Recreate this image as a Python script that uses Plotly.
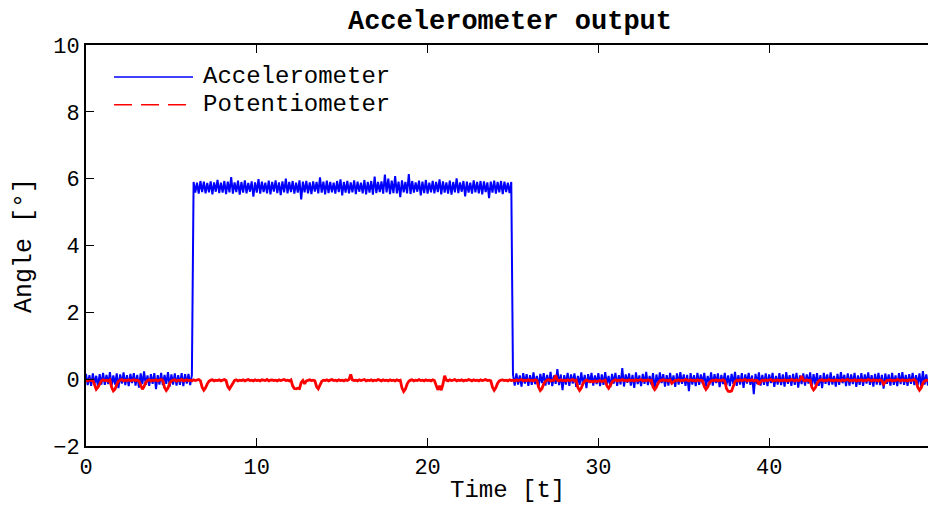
import numpy as np
import plotly.graph_objects as go

SAMPLE_STEP = 0.1  # seconds between samples

# Accelerometer angle [deg], t = 0.0 .. 6.2
accel_pre = [
    0.16, -0.18, 0.12, -0.20, 0.17, -0.14, 0.10, -0.22, 0.15, -0.16,
    0.19, -0.17, 0.13, -0.15, 0.21, -0.19, 0.11, -0.16, 0.17, -0.27,
    0.14, -0.13, 0.20, -0.18, 0.12, -0.21, 0.16, -0.12, 0.18, -0.19,
    0.13, -0.25, 0.17, -0.15, 0.23, -0.17, 0.11, -0.20, 0.15, -0.14,
    0.18, -0.30, 0.12, -0.16, 0.19, -0.18, 0.13, -0.14, 0.21, -0.22,
    0.14, -0.16, 0.17, -0.19, 0.12, -0.17, 0.18, -0.21, 0.15, -0.13,
    0.16, -0.18, 0.13,
]

# Accelerometer angle [deg], t = 6.3 .. 24.9
accel_high = [
    5.90, 5.58, 5.88, 5.55, 5.93, 5.60, 5.91, 5.56, 5.87, 5.59,
    5.92, 5.53, 5.89, 5.61, 5.96, 5.57, 5.88, 5.58, 5.93, 5.54,
    5.91, 5.59, 6.05, 5.55, 5.89, 5.60, 5.94, 5.52, 5.90, 5.58,
    5.95, 5.56, 5.87, 5.61, 5.92, 5.46, 5.89, 5.58, 5.99, 5.55,
    5.91, 5.60, 5.88, 5.56, 5.94, 5.53, 5.90, 5.61, 5.95, 5.57,
    5.89, 5.51, 5.92, 5.59, 6.00, 5.56, 5.90, 5.60, 5.93, 5.55,
    5.88, 5.58, 5.95, 5.38, 5.91, 5.59, 5.93, 5.56, 5.89, 5.54,
    5.92, 5.61, 5.90, 5.56, 6.04, 5.58, 5.91, 5.53, 5.94, 5.57,
    5.90, 5.59, 5.88, 5.55, 5.93, 5.60, 5.98, 5.50, 5.90, 5.58,
    5.93, 5.56, 5.89, 5.59, 5.95, 5.54, 5.91, 5.61, 5.88, 5.56,
    5.96, 5.53, 5.90, 5.58, 5.93, 5.52, 6.06, 5.57, 5.90, 5.60,
    5.92, 5.55, 6.12, 5.59, 6.00, 5.54, 5.94, 5.57, 6.08, 5.56,
    5.91, 5.45, 5.95, 5.59, 5.90, 5.56, 6.14, 5.54, 5.93, 5.58,
    5.89, 5.61, 5.94, 5.50, 5.91, 5.57, 5.96, 5.55, 5.88, 5.59,
    5.93, 5.56, 5.90, 5.60, 5.98, 5.53, 5.92, 5.58, 5.89, 5.55,
    5.94, 5.52, 5.90, 5.59, 6.01, 5.57, 5.89, 5.61, 5.93, 5.47,
    5.91, 5.58, 5.88, 5.55, 5.95, 5.59, 5.90, 5.56, 5.93, 5.53,
    5.92, 5.60, 5.89, 5.42, 5.91, 5.58, 5.94, 5.55, 5.90, 5.59,
    5.93, 5.54, 5.91, 5.60, 5.88, 5.57, 5.90,
]

# Accelerometer angle [deg], t = 25.0 .. 49.3
accel_post = [
    0.14, -0.19, 0.17, -0.16, 0.11, -0.22, 0.18, -0.13, 0.15, -0.20,
    0.12, -0.17, 0.20, -0.15, 0.10, -0.24, 0.16, -0.12, 0.18, -0.19,
    0.13, -0.16, 0.22, -0.21, 0.11, -0.14, 0.30, -0.18, 0.14, -0.33,
    0.12, -0.16, 0.19, -0.20, 0.14, -0.13, 0.17, -0.23, 0.10, -0.17,
    0.20, -0.18, 0.13, -0.27, 0.15, -0.12, 0.19, -0.19, 0.11, -0.15,
    0.18, -0.21, 0.14, -0.17, 0.21, -0.15, 0.10, -0.24, 0.16, -0.13,
    0.19, -0.20, 0.12, -0.16, 0.33, -0.22, 0.14, -0.11, 0.17, -0.19,
    0.13, -0.26, 0.20, -0.15, 0.11, -0.21, 0.16, -0.14, 0.22, -0.18,
    0.10, -0.16, 0.18, -0.31, 0.14, -0.17, 0.20, -0.12, 0.15, -0.22,
    0.12, -0.19, 0.19, -0.15, 0.11, -0.23, 0.17, -0.16, 0.21, -0.14,
    0.14, -0.20, 0.13, -0.36, 0.18, -0.16, 0.12, -0.21, 0.19, -0.17,
    0.14, -0.13, 0.19, -0.22, 0.10, -0.17, 0.20, -0.19, 0.15, -0.12,
    0.17, -0.24, 0.13, -0.15, 0.19, -0.18, 0.11, -0.21, 0.16, -0.14,
    0.22, -0.20, 0.12, -0.16, 0.18, -0.26, 0.14, -0.13, 0.19, -0.17,
    0.11, -0.45, 0.16, -0.15, 0.20, -0.19, 0.13, -0.17, 0.17, -0.21,
    0.14, -0.12, 0.19, -0.23, 0.10, -0.16, 0.18, -0.18, 0.14, -0.22,
    0.21, -0.14, 0.12, -0.20, 0.16, -0.17, 0.19, -0.25, 0.11, -0.15,
    0.17, -0.19, 0.14, -0.13, 0.20, -0.22, 0.15, -0.16, 0.18, -0.20,
    0.12, -0.27, 0.19, -0.14, 0.14, -0.18, 0.20, -0.16, 0.10, -0.22,
    0.16, -0.17, 0.21, -0.12, 0.13, -0.21, 0.17, -0.19, 0.14, -0.15,
    0.19, -0.23, 0.11, -0.17, 0.18, -0.20, 0.14, -0.13, 0.20, -0.17,
    0.12, -0.22, 0.16, -0.16, 0.19, -0.18, 0.13, -0.28, 0.17, -0.14,
    0.14, -0.19, 0.19, -0.17, 0.11, -0.21, 0.18, -0.15, 0.21, -0.17,
    0.13, -0.20, 0.15, -0.14, 0.19, -0.18, 0.12, -0.17, 0.17, -0.22,
    0.24, -0.16, 0.14, -0.19,
]

# Potentiometer angle [deg], t = 0.0 .. 49.3
potentiometer = [
    -0.03, -0.05, -0.02, -0.04, -0.03, -0.20, -0.30, -0.24, -0.12, -0.05,
    -0.02, -0.04, -0.03, -0.06, -0.02, -0.24, -0.35, -0.30, -0.16, -0.06,
    -0.03, -0.01, -0.05, -0.03, -0.04, -0.02, -0.05, -0.03, -0.02, -0.04,
    -0.03, -0.05, -0.21, -0.30, -0.22, -0.10, -0.04, -0.02, -0.05, -0.03,
    -0.04, -0.02, -0.05, -0.03, -0.01, -0.04, -0.25, -0.34, -0.27, -0.12,
    -0.05, -0.03, -0.02, -0.06, -0.03, -0.04, -0.01, -0.05, -0.03, -0.02,
    -0.04, -0.03, -0.05, -0.02, -0.04, -0.03, -0.01, -0.05, -0.24, -0.33,
    -0.26, -0.14, -0.06, -0.03, -0.02, -0.05, -0.03, -0.04, -0.02, -0.05,
    -0.03, -0.01, -0.04, -0.22, -0.29, -0.20, -0.09, -0.04, -0.02, -0.05,
    -0.03, -0.04, -0.02, -0.05, -0.03, -0.01, -0.04, -0.03, -0.05, -0.02,
    -0.04, -0.03, -0.05, -0.02, -0.03, -0.04, -0.01, -0.05, -0.03, -0.02,
    -0.04, -0.03, -0.05, -0.02, -0.04, -0.03, -0.01, -0.04, -0.03, -0.05,
    -0.02, -0.20, -0.28, -0.29, -0.27, -0.28, -0.10, -0.04, -0.14, -0.05,
    -0.03, -0.02, -0.04, -0.03, -0.05, -0.22, -0.29, -0.18, -0.07, -0.03,
    -0.04, -0.02, -0.05, -0.03, -0.01, -0.04, -0.03, -0.05, -0.02, -0.04,
    -0.03, -0.05, -0.02, -0.04, -0.01, 0.14, -0.02, -0.04, -0.03, -0.05,
    -0.02, -0.04, -0.03, -0.01, -0.05, -0.03, -0.04, -0.02, -0.05, -0.03,
    -0.04, -0.01, -0.03, -0.05, -0.02, -0.04, -0.03, -0.05, -0.02, -0.04,
    -0.03, -0.05, -0.02, -0.04, -0.03, -0.26, -0.37, -0.30, -0.15, -0.06,
    -0.03, -0.02, -0.05, -0.03, -0.04, -0.01, -0.04, -0.03, -0.05, -0.02,
    -0.04, -0.03, -0.05, -0.02, -0.04, -0.22, -0.32, -0.20, -0.33, -0.15,
    0.10, -0.03, -0.05, -0.02, -0.04, -0.03, -0.01, -0.05, -0.03, -0.04,
    -0.02, -0.05, -0.03, -0.04, -0.01, -0.03, -0.05, -0.02, -0.04, -0.03,
    -0.05, -0.02, -0.04, -0.03, -0.01, -0.04, -0.03, -0.05, -0.24, -0.33,
    -0.25, -0.12, -0.05, -0.03, -0.02, -0.04, -0.03, -0.05, -0.02, -0.04,
    -0.03, -0.05, -0.02, -0.04, -0.03, -0.01, -0.05, -0.03, -0.04, -0.02,
    -0.04, -0.03, -0.05, -0.02, -0.04, -0.24, -0.34, -0.28, -0.14, -0.06,
    -0.03, -0.02, -0.05, -0.03, -0.04, 0.12, -0.03, -0.05, -0.02, -0.04,
    -0.03, -0.05, -0.02, -0.04, -0.03, -0.01, -0.05, -0.03, -0.25, -0.34,
    -0.27, -0.13, -0.06, -0.03, -0.05, -0.07, -0.06, -0.08, -0.05, -0.07,
    -0.06, -0.04, -0.07, -0.05, -0.03, -0.20, -0.27, -0.19, -0.08, -0.04,
    -0.02, -0.05, -0.03, -0.04, -0.01, -0.04, -0.03, -0.05, -0.02, -0.04,
    -0.03, -0.05, -0.02, -0.04, -0.03, -0.01, -0.05, -0.03, -0.04, -0.02,
    -0.04, -0.03, -0.23, -0.31, -0.24, -0.11, -0.05, -0.03, -0.02, -0.04,
    -0.03, -0.05, -0.02, -0.12, -0.06, -0.03, -0.04, -0.02, -0.05, -0.03,
    -0.04, -0.01, -0.03, -0.05, -0.02, -0.04, -0.03, -0.05, -0.02, -0.04,
    -0.03, -0.05, -0.22, -0.31, -0.24, -0.11, -0.05, -0.03, -0.04, -0.02,
    -0.05, -0.03, -0.04, -0.02, -0.05, -0.28, -0.36, -0.37, -0.35, -0.18,
    -0.07, -0.03, -0.05, -0.02, -0.04, -0.03, -0.01, -0.05, -0.03, -0.04,
    -0.02, -0.05, -0.03, -0.04, -0.16, -0.07, -0.03, -0.05, -0.02, -0.04,
    -0.03, -0.01, -0.05, -0.03, -0.04, -0.02, -0.05, -0.03, -0.04, -0.02,
    -0.05, -0.03, -0.04, -0.01, -0.03, -0.05, -0.02, -0.04, -0.03, 0.09,
    -0.03, -0.05, -0.02, -0.04, -0.03, -0.24, -0.32, -0.26, -0.13, -0.05,
    -0.03, -0.02, -0.05, -0.03, -0.04, -0.01, -0.04, -0.03, -0.05, -0.02,
    -0.04, -0.03, -0.05, -0.02, -0.04, -0.03, -0.01, -0.05, -0.03, -0.04,
    -0.02, -0.05, -0.03, -0.04, -0.02, -0.05, -0.03, -0.04, -0.01, -0.03,
    -0.05, -0.02, -0.04, -0.03, -0.05, -0.02, -0.04, -0.15, -0.07, -0.03,
    -0.04, -0.02, -0.05, -0.03, -0.04, -0.01, -0.03, -0.05, -0.02, -0.04,
    -0.03, -0.05, -0.02, -0.04, -0.03, -0.01, -0.05, -0.24, -0.33, -0.26,
    -0.12, -0.05, -0.03, -0.04,
]

x_ticks = [0, 10, 20, 30, 40]
y_ticks = [-2, 0, 2, 4, 6, 8, 10]
series_names = ["Accelerometer", "Potentiometer"]

accel = accel_pre + accel_high + accel_post
t_acc = np.round(np.arange(len(accel)) * SAMPLE_STEP, 1)
t_pot = np.round(np.arange(len(potentiometer)) * SAMPLE_STEP, 1)

FONT = "Liberation Mono, Courier New, monospace"
BLUE = "#0000ff"
RED = "#ff0000"

fig = go.Figure()
fig.add_trace(go.Scatter(x=t_acc, y=accel, mode="lines", name=series_names[0],
                         line=dict(color=BLUE, width=2), showlegend=False))
fig.add_trace(go.Scatter(x=t_pot, y=potentiometer, mode="lines", name=series_names[1],
                         line=dict(color=RED, width=2.8), showlegend=False))

# MATLAB-style legend drawn in the top-left corner
leg_rows = [(0.9204, BLUE, "solid"), (0.8507, RED, "18px,9px")]
for (yy, col, dash), name in zip(leg_rows, series_names):
    fig.add_shape(type="line", xref="paper", yref="paper",
                  x0=0.0333, x1=0.1271, y0=yy, y1=yy,
                  line=dict(color=col, width=1.5, dash=dash))
    fig.add_annotation(xref="paper", yref="paper", x=0.1366, y=yy,
                       text=name, showarrow=False, xanchor="left", yanchor="middle",
                       font=dict(family=FONT, size=24, color="black"))

# x-axis title placed as in the reference
fig.add_annotation(xref="paper", yref="paper", x=0.501, y=-0.112,
                   text="Time [t]", showarrow=False, xanchor="center", yanchor="middle",
                   font=dict(family=FONT, size=24, color="black"))

fig.update_layout(
    width=928, height=507,
    margin=dict(l=86, r=0, t=45, b=61),
    paper_bgcolor="white", plot_bgcolor="white",
    font=dict(family=FONT, color="black"),
    title=dict(text="<b>Accelerometer output</b>", x=510 / 928, xref="container",
               xanchor="center", y=1 - 20 / 507, yanchor="middle",
               font=dict(family=FONT, size=27, color="black")),
    showlegend=False,
)
fig.update_xaxes(
    range=[0, 49.3], tickvals=x_ticks, ticks="inside", ticklen=8, tickwidth=1,
    tickcolor="black", showline=True, linecolor="black", linewidth=2,
    mirror="ticks", showgrid=False, zeroline=False, automargin=False,
    tickfont=dict(family=FONT, size=22),
)
fig.update_yaxes(
    range=[-2, 10], tickvals=y_ticks, ticks="inside", ticklen=8, tickwidth=1,
    tickcolor="black", showline=True, linecolor="black", linewidth=2,
    mirror=False, showgrid=False, zeroline=False, automargin=False,
    tickfont=dict(family=FONT, size=22),
    title=dict(text="Angle [°]", font=dict(family=FONT, size=25), standoff=14),
)

fig.write_html("out.html")
